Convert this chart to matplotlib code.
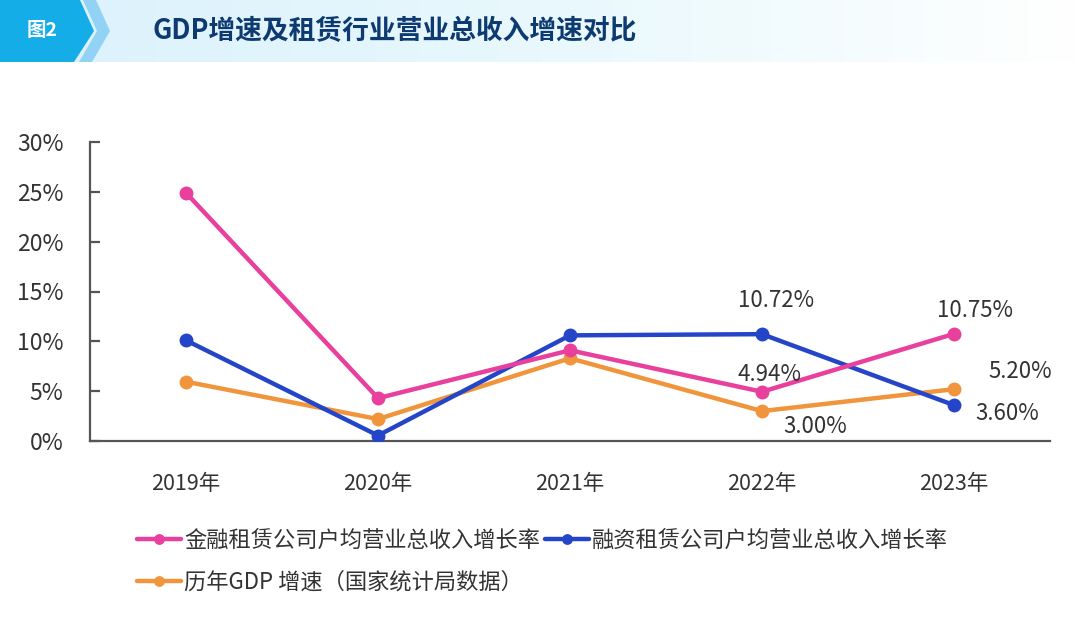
import matplotlib
matplotlib.use("Agg")
import matplotlib.pyplot as plt
import numpy as np
from matplotlib.patches import Polygon
from matplotlib.colors import LinearSegmentedColormap

plt.rcParams['font.family'] = ['Noto Sans CJK SC', 'DejaVu Sans']

years = ['2019年', '2020年', '2021年', '2022年', '2023年']
finance_lease = [24.9, 4.3, 9.1, 4.94, 10.75]
fin_lease = [10.1, 0.55, 10.6, 10.72, 3.60]
gdp = [5.95, 2.2, 8.3, 3.00, 5.20]
labels = ['金融租赁公司户均营业总收入增长率', '融资租赁公司户均营业总收入增长率', '历年GDP 增速（国家统计局数据）']
title = 'GDP增速及租赁行业营业总收入增速对比'
fig_tag = '图2'
yticks = [0, 5, 10, 15, 20, 25, 30]

PINK = '#e8409c'
BLUE = '#2445c8'
ORANGE = '#f0953c'
TXT = '#333333'

W, H = 1080, 618
fig = plt.figure(figsize=(W / 100, H / 100), dpi=100)

# header band
hax = fig.add_axes([0, 1 - 62 / H, 1, 62 / H])
grad = np.linspace(0, 1, 256)[None, :]
cmap = LinearSegmentedColormap.from_list('g', ['#dbf1fc', '#e8f8fd', '#ffffff'])
hax.imshow(grad, aspect='auto', cmap=cmap, extent=[0, W, 62, 0])
hax.set_xlim(0, W)
hax.set_ylim(62, 0)
hax.axis('off')
hax.add_patch(Polygon([(0, 0), (80, 0), (94, 31), (74, 62), (0, 62)], closed=True,
                      facecolor='#15ade8', edgecolor='none'))
hax.add_patch(Polygon([(83, 0), (96, 0), (110, 31), (92, 62), (79, 62), (97, 31)], closed=True,
                      facecolor='#92d2f4', edgecolor='none'))
hax.text(42, 31, fig_tag, color='white', fontsize=14, fontweight='bold', ha='center', va='center')
hax.text(152, 31, title, color='#0e3a72', fontsize=19.3, fontweight='bold', ha='left', va='center')

# main axes
ax = fig.add_axes([90 / W, 1 - 441 / H, (1050 - 90) / W, (441 - 142) / H])
x = np.arange(len(years))
kw = dict(linewidth=3.2, marker='o', markersize=9, solid_capstyle='round')
ax.plot(x, gdp, color=ORANGE, label=labels[2], zorder=3, **kw)
ax.plot(x, fin_lease, color=BLUE, label=labels[1], zorder=4, **kw)
ax.plot(x, finance_lease, color=PINK, label=labels[0], zorder=5, **kw)

ax.set_xlim(-0.5, 4.5)
ax.set_ylim(0, 30)
ax.set_yticks(yticks)
ax.set_yticklabels([f'{v}%' for v in yticks])
ax.set_xticks(x)
ax.set_xticklabels(years)
for s in ['top', 'right']:
    ax.spines[s].set_visible(False)
for s in ['left', 'bottom']:
    ax.spines[s].set_color('#555555')
    ax.spines[s].set_linewidth(1.6)
ax.tick_params(axis='y', direction='in', length=7, width=1.6, color='#555555',
               labelsize=16.5, labelcolor=TXT, pad=19)
ax.tick_params(axis='x', length=0, labelsize=15.5, labelcolor=TXT, pad=23)

ann_kw = dict(textcoords='offset pixels', ha='center', va='center', fontsize=16, color=TXT, zorder=6)
ax.annotate(f'{fin_lease[3]:.2f}%', (3, fin_lease[3]), xytext=(14, 34), **ann_kw)
ax.annotate(f'{finance_lease[3]:.2f}%', (3, finance_lease[3]), xytext=(8, 17), **ann_kw)
ax.annotate(f'{gdp[3]:.2f}%', (3, gdp[3]), xytext=(53, -15), **ann_kw)
ax.annotate(f'{finance_lease[4]:.2f}%', (4, finance_lease[4]), xytext=(21, 23), **ann_kw)
ax.annotate(f'{gdp[4]:.2f}%', (4, gdp[4]), xytext=(66, 18), **ann_kw)
ax.annotate(f'{fin_lease[4]:.2f}%', (4, fin_lease[4]), xytext=(53, -8), **ann_kw)

h, l = ax.get_legend_handles_labels()
order = [2, 0, 1]
leg = fig.legend([h[i] for i in order], [l[i] for i in order], loc='upper left',
                 bbox_to_anchor=(137 / W, 1 - 529 / H), ncol=2, frameon=False,
                 fontsize=16, handlelength=2.0, handletextpad=0.12, columnspacing=0.2,
                 labelspacing=0.85, borderpad=0, borderaxespad=0, markerscale=0.75)
for t in leg.get_texts():
    t.set_color(TXT)

fig.savefig('out.png', dpi=100)
